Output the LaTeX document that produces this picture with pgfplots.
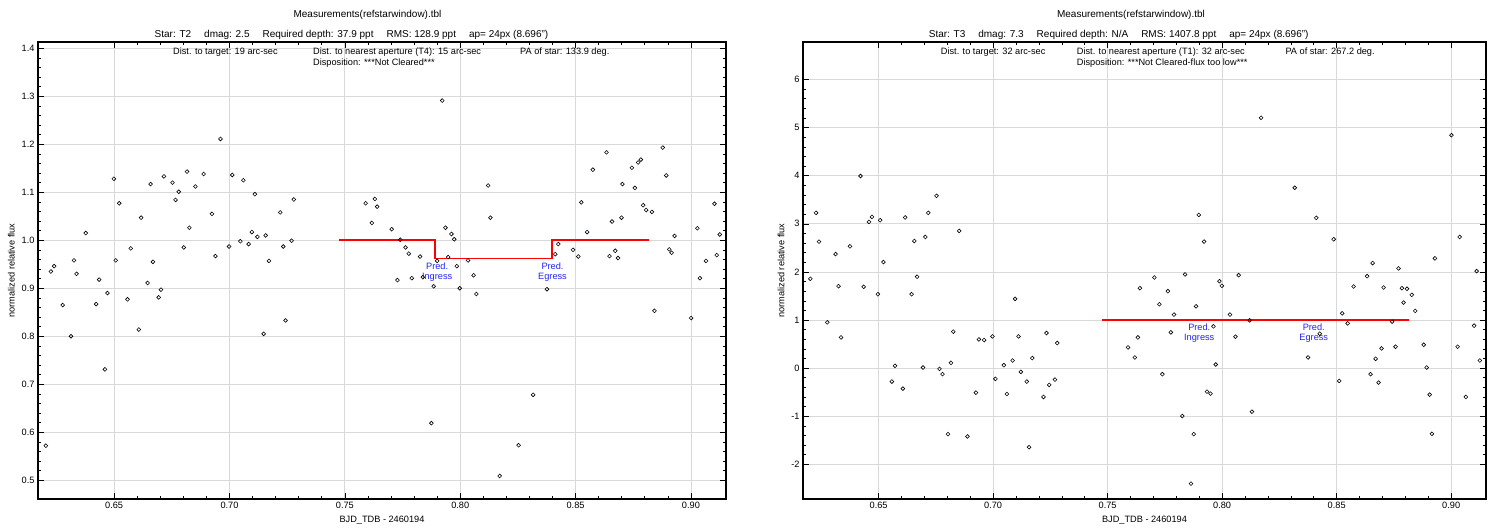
\documentclass[border=0pt]{standalone}
\usepackage{fontspec}
\setmainfont{Liberation Sans}
\usepackage{pgfplots}
\pgfplotsset{compat=1.18}
\definecolor{predblue}{RGB}{35,35,250}
\newcommand{\fs}{\fontsize{9.2}{10}\selectfont}
\newcommand{\fh}{\fontsize{10}{11}\selectfont}

\pgfplotsset{refplot/.style={
  scale only axis, anchor=south west,
  width=688pt, height=457pt,
  xmin=0.617, xmax=0.9152,
  xtick={0.65,0.7,0.75,0.8,0.85,0.9},
  xticklabels={0.65,0.70,0.75,0.80,0.85,0.90},
  minor x tick num=4, minor y tick num=4,
  grid=major, major grid style={gray!30, line width=0.8pt},
  axis line style={line width=1.2pt},
  tick style={black, line width=0.6pt},
  major tick length=6pt, minor tick length=3pt,
  tick align=inside,
  ticklabel style={font=\fs},
  label style={font=\fs},
  xlabel={BJD\_TDB - 2460194},
  ylabel={normalized relative flux},
  clip=true,
}}

\begin{document}
\begin{tikzpicture}
\path[use as bounding box] (0pt,0pt) rectangle (1497pt,529pt);

% left panel: T2
\begin{axis}[refplot, at={(38pt,30pt)},
  ymin=0.461, ymax=1.413,
  ytick={0.5,0.6,0.7,0.8,0.9,1.0,1.1,1.2,1.3,1.4},
  yticklabels={0.5,0.6,0.7,0.8,0.9,1.0,1.1,1.2,1.3,1.4}]
\addplot[only marks, mark=o, mark size=1.9pt, mark options={black, line width=0.6pt}] coordinates {
(0.6204,0.572) (0.6226,0.935) (0.6240,0.946) (0.6277,0.865) (0.6313,0.800)
(0.6326,0.958) (0.6337,0.930) (0.6377,1.015) (0.6422,0.867) (0.6435,0.918)
(0.6460,0.731) (0.6471,0.890) (0.6499,1.128) (0.6507,0.958) (0.6522,1.077)
(0.6558,0.877) (0.6572,0.983) (0.6607,0.814) (0.6617,1.047) (0.6645,0.911)
(0.6658,1.117) (0.6668,0.955) (0.6693,0.881) (0.6703,0.897) (0.6716,1.133)
(0.6753,1.120) (0.6766,1.084) (0.6780,1.101) (0.6802,0.985) (0.6816,1.143)
(0.6826,1.026) (0.6852,1.112) (0.6888,1.138) (0.6924,1.055) (0.6939,0.967)
(0.6961,1.211) (0.6998,0.987) (0.7012,1.136) (0.7047,0.998) (0.7060,1.125)
(0.7083,0.992) (0.7097,1.017) (0.7110,1.096) (0.7121,1.007) (0.7148,0.805)
(0.7157,1.010) (0.7171,0.957) (0.7220,1.058) (0.7233,0.987) (0.7243,0.833)
(0.7269,0.999) (0.7279,1.085) (0.7590,1.077) (0.7617,1.036) (0.7630,1.086)
(0.7640,1.070) (0.7703,1.023) (0.7728,0.917) (0.7740,1.001) (0.7763,0.985)
(0.7777,0.972) (0.7790,0.921) (0.7826,0.966) (0.7838,0.923) (0.7875,0.619)
(0.7885,0.904) (0.7900,0.957) (0.7922,1.291) (0.7936,1.026) (0.7948,0.965)
(0.7962,1.013) (0.7974,1.002) (0.7985,0.946) (0.7998,0.900) (0.8034,0.958)
(0.8058,0.927) (0.8070,0.888) (0.8121,1.114) (0.8131,1.047) (0.8171,0.509)
(0.8253,0.573) (0.8316,0.678) (0.8376,0.898) (0.8412,0.971) (0.8425,0.992)
(0.8489,0.980) (0.8512,0.966) (0.8525,1.079) (0.8550,1.017) (0.8575,1.147)
(0.8634,1.183) (0.8647,0.967) (0.8658,1.039) (0.8672,0.978) (0.8684,0.963)
(0.8699,1.047) (0.8703,1.117) (0.8744,1.151) (0.8757,1.109) (0.8771,1.162)
(0.8783,1.168) (0.8793,1.073) (0.8806,1.063) (0.8831,1.059) (0.8842,0.853)
(0.8878,1.193) (0.8893,1.135) (0.8906,0.981) (0.8916,0.974) (0.8929,1.009)
(0.9001,0.838) (0.9028,1.025) (0.9039,0.921) (0.9065,0.957) (0.9102,1.076)
(0.9112,0.969) (0.9125,1.012)
};
\addplot[red, line width=1.5pt] coordinates {
(0.7474,1.0) (0.7891,1.0) (0.7891,0.9623) (0.8398,0.9623) (0.8398,1.0) (0.8818,1.0)};
\node[predblue, font=\fs, align=center, inner sep=0pt] at (axis cs:0.790,0.934) {Pred.\\Ingress};
\node[predblue, font=\fs, align=center, inner sep=0pt] at (axis cs:0.840,0.934) {Pred.\\Egress};
\end{axis}

% right panel: T3
\begin{axis}[refplot, at={(803pt,30pt)}, width=683pt,
  ymin=-2.72, ymax=6.78,
  ytick={-2,-1,0,1,2,3,4,5,6},
  yticklabels={-2,-1,0,1,2,3,4,5,6}]
\addplot[only marks, mark=o, mark size=1.9pt, mark options={black, line width=0.6pt}] coordinates {
(0.6202,1.858) (0.6227,3.228) (0.6240,2.630) (0.6276,0.952) (0.6312,2.372)
(0.6325,1.704) (0.6336,0.639) (0.6375,2.532) (0.6421,3.994) (0.6435,1.691)
(0.6458,3.040) (0.6471,3.144) (0.6497,1.537) (0.6507,3.075) (0.6521,2.205)
(0.6558,-0.279) (0.6572,0.048) (0.6606,-0.426) (0.6616,3.132) (0.6644,1.537)
(0.6656,2.643) (0.6668,1.900) (0.6694,0.013) (0.6704,2.727) (0.6717,3.228)
(0.6753,3.582) (0.6766,-0.015) (0.6779,-0.125) (0.6803,-1.372) (0.6816,0.111)
(0.6826,0.758) (0.6852,2.852) (0.6888,-1.420) (0.6925,-0.509) (0.6938,0.597)
(0.6961,0.585) (0.6997,0.660) (0.7010,-0.223) (0.7047,0.062) (0.7060,-0.537)
(0.7085,0.159) (0.7096,1.440) (0.7111,0.660) (0.7121,-0.077) (0.7147,-0.279)
(0.7157,-1.643) (0.7171,0.209) (0.7220,-0.599) (0.7233,0.730) (0.7245,-0.349)
(0.7270,-0.238) (0.7280,0.522) (0.7589,0.431) (0.7619,0.222) (0.7632,0.639)
(0.7641,1.662) (0.7704,1.885) (0.7726,1.328) (0.7739,-0.125) (0.7763,1.600)
(0.7776,0.744) (0.7790,1.113) (0.7826,-0.996) (0.7838,1.948) (0.7864,-2.401)
(0.7876,-1.372) (0.7886,1.286) (0.7898,3.186) (0.7921,2.631) (0.7934,-0.488)
(0.7949,-0.530) (0.7962,0.869) (0.7972,0.076) (0.7988,1.808) (0.7999,1.712)
(0.8034,1.113) (0.8058,0.654) (0.8072,1.933) (0.8120,0.994) (0.8130,-0.905)
(0.8170,5.204) (0.8317,3.750) (0.8375,0.222) (0.8411,3.124) (0.8426,0.716)
(0.8487,2.679) (0.8511,-0.265) (0.8524,1.140) (0.8548,0.931) (0.8574,1.697)
(0.8633,1.912) (0.8648,-0.125) (0.8657,2.184) (0.8670,0.194) (0.8683,-0.300)
(0.8696,0.410) (0.8705,1.676) (0.8742,0.967) (0.8757,0.445) (0.8770,2.073)
(0.8785,1.662) (0.8792,1.363) (0.8807,1.650) (0.8828,1.524) (0.8843,1.190)
(0.8880,0.486) (0.8893,0.013) (0.8906,-0.551) (0.8916,-1.365) (0.8929,2.282)
(0.9001,4.843) (0.9028,0.445) (0.9037,2.727) (0.9064,-0.599) (0.9100,0.883)
(0.9111,2.017) (0.9125,0.159)
};
\addplot[red, line width=1.5pt] coordinates {(0.7475,1.0) (0.8817,1.0)};
\node[predblue, font=\fs, align=center, inner sep=0pt] at (axis cs:0.790,0.72) {Pred.\\Ingress};
\node[predblue, font=\fs, align=center, inner sep=0pt] at (axis cs:0.840,0.72) {Pred.\\Egress};
\end{axis}

% header texts, left
\node[font=\fh] at (367.5pt,514pt) {Measurements(refstarwindow).tbl};
\node[font=\fh] at (351.5pt,494pt) {Star: T2\hspace{13pt}dmag: 2.5\hspace{13pt}Required depth: 37.9 ppt\hspace{13pt}RMS: 128.9 ppt\hspace{13pt}ap= 24px (8.696")};
\node[font=\fs, anchor=west, inner sep=0pt] at (173pt,477pt) {Dist. to target: 19 arc-sec};
\node[font=\fs, anchor=west, inner sep=0pt] at (313pt,477pt) {Dist. to nearest aperture (T4): 15 arc-sec};
\node[font=\fs, anchor=west, inner sep=0pt] at (313pt,466pt) {Disposition: ***Not Cleared***};
\node[font=\fs, anchor=west, inner sep=0pt] at (520pt,477pt) {PA of star: 133.9 deg.};
% header texts, right
\node[font=\fh] at (1131pt,514pt) {Measurements(refstarwindow).tbl};
\node[font=\fh] at (1118.7pt,494pt) {Star: T3\hspace{13pt}dmag: 7.3\hspace{13pt}Required depth: N/A\hspace{13pt}RMS: 1407.8 ppt\hspace{13pt}ap= 24px (8.696")};
\node[font=\fs, anchor=west, inner sep=0pt] at (940.7pt,477pt) {Dist. to target: 32 arc-sec};
\node[font=\fs, anchor=west, inner sep=0pt] at (1076.7pt,477pt) {Dist. to nearest aperture (T1): 32 arc-sec};
\node[font=\fs, anchor=west, inner sep=0pt] at (1076.7pt,466pt) {Disposition: ***Not Cleared-flux too low***};
\node[font=\fs, anchor=west, inner sep=0pt] at (1285.3pt,477pt) {PA of star: 267.2 deg.};
\end{tikzpicture}
\end{document}
